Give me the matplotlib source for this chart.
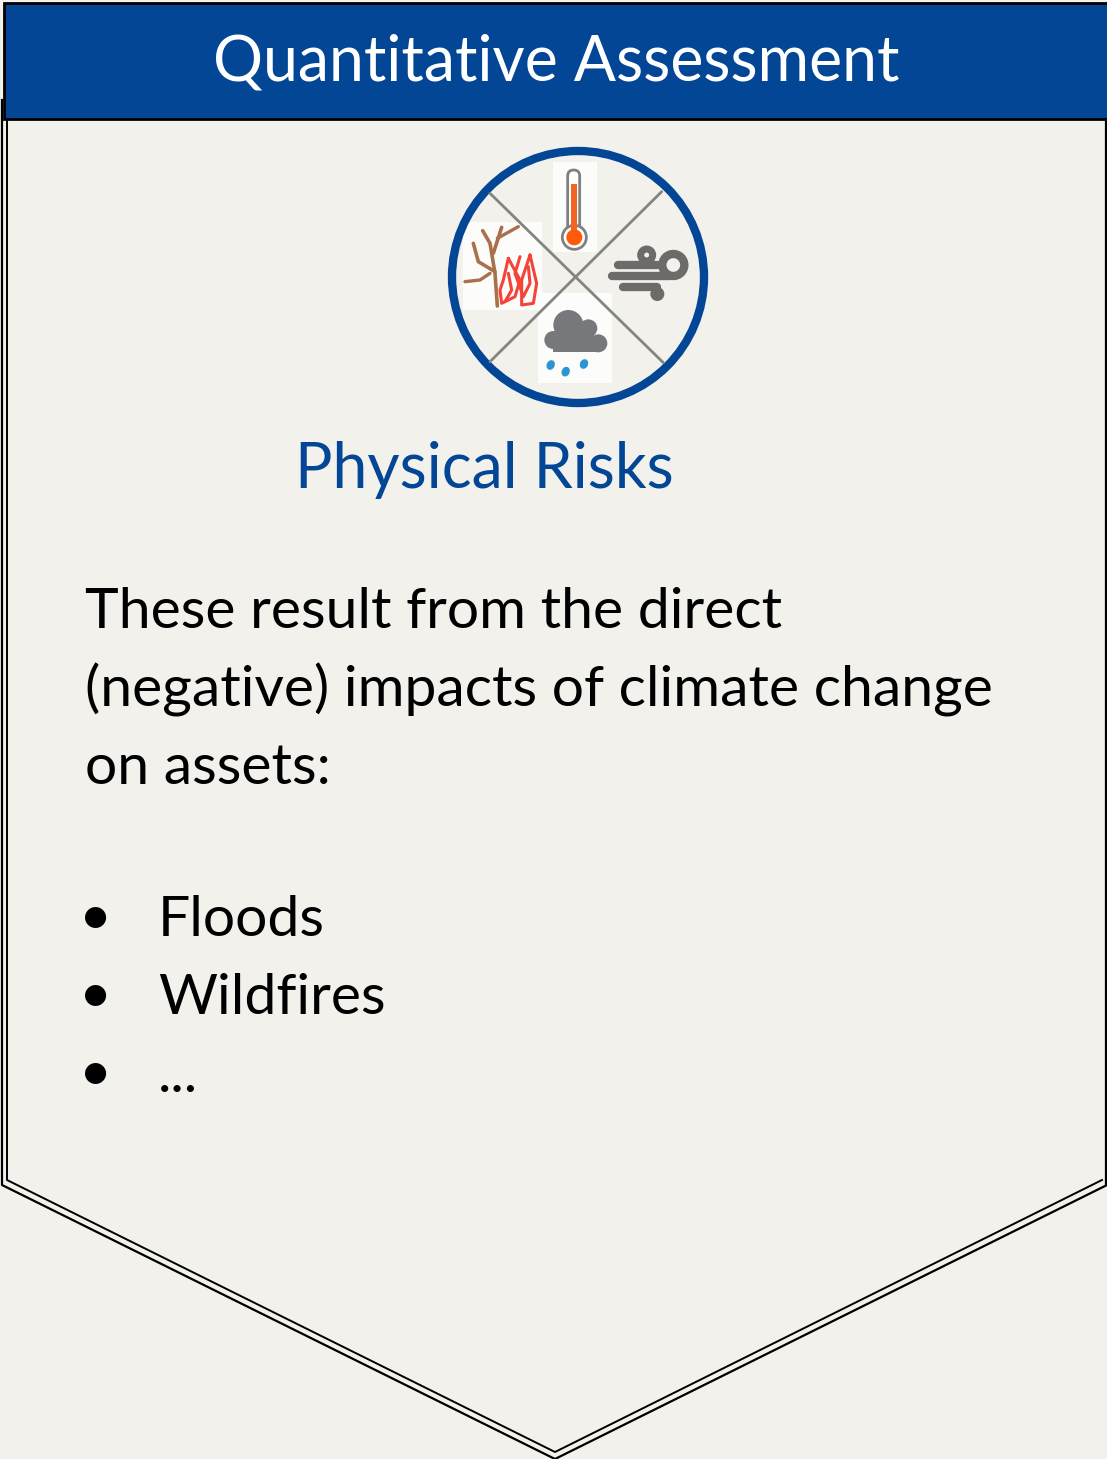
import matplotlib
matplotlib.use('Agg')
import matplotlib.pyplot as plt
from matplotlib.patches import Circle, Rectangle, FancyBboxPatch, Ellipse, Polygon, Wedge

plt.rcParams['font.family'] = ['Lato', 'DejaVu Sans']

# texts
header = 'Quantitative Assessment'
subtitle = 'Physical Risks'
body_lines = ['These result from the direct', '(negative) impacts of climate change', 'on assets:']
body_y = [612, 690, 768]
bullets = ['Floods', 'Wildfires', '...']
bullet_y = [921, 999, 1077]

# colours
bg = '#F2F1EC'
blue = '#024695'
grey = '#77787B'

fig = plt.figure(figsize=(11.07, 14.59), dpi=100, facecolor=bg)
ax = fig.add_axes([0, 0, 1, 1])
ax.set_xlim(0, 1107)
ax.set_ylim(1459, 0)
ax.axis('off')


# zoom crop coordinates to page pixels
def z(x, y):
    return (440 + x / 3, 140 + y / 3)


def zline(pts, color, lw):
    xs = [z(*p)[0] for p in pts]
    ys = [z(*p)[1] for p in pts]
    ax.plot(xs, ys, color=color, lw=lw, solid_capstyle='round', solid_joinstyle='round')


# chevron outline, doubled
ax.plot([2, 2, 555, 1107], [100, 1185, 1459, 1185], color='black', lw=1.6)
ax.plot([7, 7, 555, 1102], [120, 1180, 1452, 1180], color='black', lw=1.4)
ax.plot([1106, 1106], [120, 1185], color='black', lw=1.6)

# header band
ax.add_patch(Rectangle((4, 3), 1110, 116, fc=blue, ec='black', lw=2))
ax.text(556, 62, header, color='white', fontsize=45, ha='center', va='center')

# white patches behind icons
for x0, y0, x1, y1 in [(340, 65, 470, 335), (70, 245, 305, 510), (295, 460, 515, 730)]:
    a = z(x0, y0)
    b = z(x1, y1)
    ax.add_patch(Rectangle(a, b[0] - a[0], b[1] - a[1], fc='#FCFCFB', ec='none'))

# cross lines and ring
zline([(150, 160), (670, 668)], '#85857F', 2)
zline([(665, 155), (150, 665)], '#85857F', 2)
ax.add_patch(Circle((578, 277), 126, fc='none', ec=blue, lw=6))

# thermometer
ax.add_patch(FancyBboxPatch(z(383, 90), 12, 70, boxstyle='round,pad=0,rounding_size=6',
                            fc='white', ec='#808080', lw=2, zorder=3))
ax.add_patch(Circle(z(403, 292), 12, fc='white', ec='#808080', lw=2, zorder=3))
ax.add_patch(Rectangle(z(394, 132), 6, 50, fc='#F26522', ec='none', zorder=4))
ax.add_patch(Circle(z(403, 292), 8, fc='#FF5A0A', ec='none', zorder=4))

# wind
wind = '#6F6A6A'
zline([(515, 407), (690, 407)], wind, 6)
zline([(535, 374), (650, 374)], wind, 6)
zline([(550, 440), (650, 440)], wind, 6)
ax.add_patch(Circle(z(700, 375), 11, fc='none', ec=wind, lw=6, zorder=3))
ax.add_patch(Circle(z(620, 345), 6, fc='none', ec=wind, lw=5, zorder=3))
ax.add_patch(Circle(z(652, 462), 7, fc=wind, ec='none', zorder=3))

# rain cloud
for cx, cy, r in [(385, 555, 15), (340, 600, 9), (445, 565, 9), (475, 610, 9), (420, 590, 14)]:
    ax.add_patch(Circle(z(cx, cy), r, fc=grey, ec='none', zorder=3))
a = z(340, 590)
ax.add_patch(Rectangle(a, 48, 15, fc=grey, ec='none', zorder=3))
for cx, cy in [(332, 675), (377, 695), (432, 672)]:
    ax.add_patch(Ellipse(z(cx, cy), 8, 10, angle=25, fc='#2B95D3', ec='none', zorder=3))

# tree
tree = '#A9704A'
zline([(172, 498), (165, 400), (150, 310), (128, 272)], tree, 2.6)
zline([(160, 340), (185, 262)], tree, 2.6)
zline([(172, 295), (235, 260)], tree, 2.4)
zline([(165, 395), (115, 365), (100, 310)], tree, 2.6)
zline([(150, 400), (120, 420), (75, 425)], tree, 2.4)

# fire
fire = '#F4443A'
zline([(205, 355), (190, 420), (180, 450), (185, 490), (225, 470), (240, 420), (205, 355)], fire, 2.2)
zline([(270, 345), (290, 430), (280, 490), (245, 495), (245, 420), (270, 345)], fire, 2.2)
zline([(205, 400), (215, 450), (195, 485)], fire, 2.2)
zline([(240, 350), (225, 400), (250, 470), (270, 430), (265, 380)], fire, 2.2)

# subtitle and body
ax.text(295, 470, subtitle, color=blue, fontsize=45, ha='left', va='center')
for line, y in zip(body_lines, body_y):
    ax.text(85, y, line, color='black', fontsize=41, ha='left', va='center')
for item, y in zip(bullets, bullet_y):
    ax.text(96, y - 3, '•', color='black', fontsize=41, ha='center', va='center')
    ax.text(158, y, item, color='black', fontsize=41, ha='left', va='center')

plt.savefig('out.png', dpi=100, facecolor=bg)
